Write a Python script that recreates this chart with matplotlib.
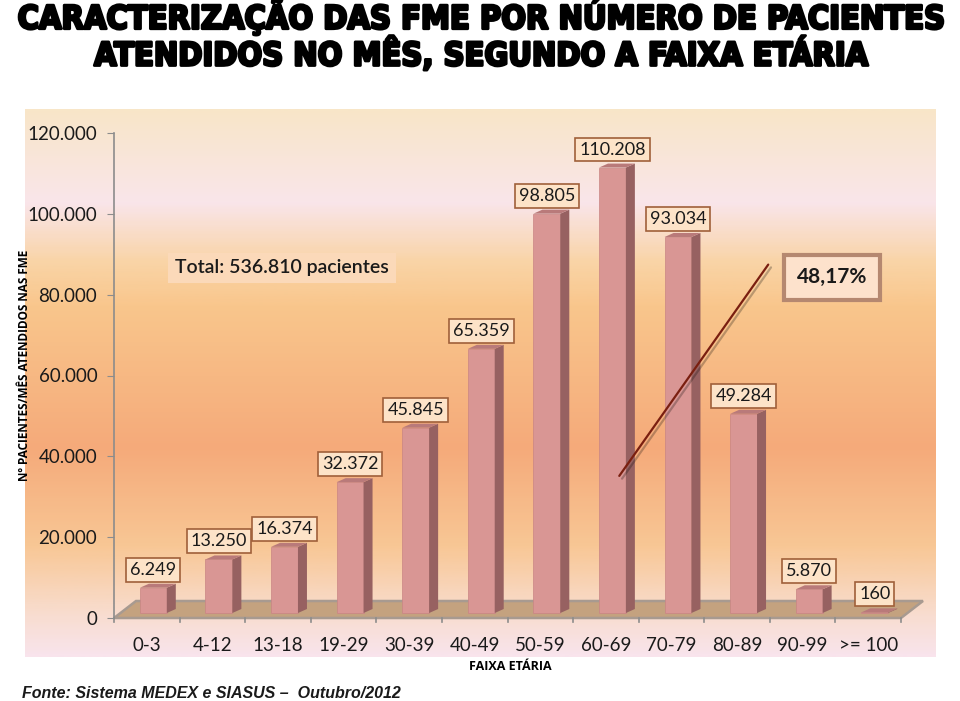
import numpy as np
import matplotlib
matplotlib.use('Agg')
import matplotlib.pyplot as plt
from matplotlib.patches import Polygon
from matplotlib.colors import LinearSegmentedColormap
import matplotlib.patheffects as pe

# data
faixas = ['0-3', '4-12', '13-18', '19-29', '30-39', '40-49', '50-59',
          '60-69', '70-79', '80-89', '90-99', '>= 100']
pacientes = [6249, 13250, 16374, 32372, 45845, 65359, 98805,
             110208, 93034, 49284, 5870, 160]
rotulos = ['6.249', '13.250', '16.374', '32.372', '45.845', '65.359', '98.805',
           '110.208', '93.034', '49.284', '5.870', '160']
yticks = [0, 20000, 40000, 60000, 80000, 100000, 120000]
ytick_labels = ['0', '20.000', '40.000', '60.000', '80.000', '100.000', '120.000']

W, H = 960, 701
fig = plt.figure(figsize=(9.6, 7.01), dpi=100)
fig.patch.set_facecolor('white')

# gradient background of the chart area
bg = fig.add_axes([25 / W, (H - 657) / H, (936 - 25) / W, (657 - 109) / H])
stops = [(0.0, '#f8e6c8'), (0.17, '#fae5ea'), (0.28, '#f9d4a6'), (0.36, '#f9c68c'),
         (0.62, '#f5aa7a'), (0.80, '#f8c795'), (0.92, '#f8dccd'), (1.0, '#f9e4ec')]
cmap = LinearSegmentedColormap.from_list('fundo', stops)
bg.imshow(np.linspace(0, 1, 300).reshape(-1, 1), aspect='auto', cmap=cmap,
          extent=[0, 1, 1, 0])
bg.set_xlim(0, 1)
bg.set_ylim(1, 0)
bg.axis('off')

ax = fig.add_axes([114 / W, (H - 618) / H, 787 / W, 485 / H])
ax.patch.set_alpha(0)
x = np.arange(len(faixas))
ax.set_xlim(-0.5, len(faixas) - 0.5)
ax.set_ylim(0, 120000)

px_x = 1 / 65.6          # one pixel in x data units
px_y = 120000 / 485      # one pixel in y data units

# floor
dep_x, dep_y = 22 * px_x, 17 * px_y
floor = Polygon([(-0.5, 0), (11.5, 0), (11.5 + dep_x, dep_y), (-0.5 + dep_x, dep_y)],
                closed=True, facecolor='#c4a27f', edgecolor='#a89a90', lw=1.8,
                clip_on=False, zorder=1)
ax.add_patch(floor)

# bars
base = 5 * px_y
bw = 0.41
shift = 0.1
sx, sy = 9 * px_x, 4 * px_y
ax.bar(x + shift, pacientes, width=bw, bottom=base, color='#d99694',
       edgecolor='#c98584', lw=0.5, zorder=3)
for xi, v in zip(x, pacientes):
    r = xi + shift + bw / 2
    l = xi + shift - bw / 2
    top = base + v
    ax.add_patch(Polygon([(r, base), (r + sx, base + sy), (r + sx, top + sy), (r, top)],
                         closed=True, facecolor='#976161', edgecolor='none', zorder=3))
    ax.add_patch(Polygon([(l, top), (r, top), (r + sx, top + sy), (l + sx, top + sy)],
                         closed=True, facecolor='#b97a7a', edgecolor='none', zorder=3))

for xi, v, lab in zip(x, pacientes, rotulos):
    ax.annotate(lab, (xi + shift, v + base), xytext=(0, 13), textcoords='offset points',
                ha='center', va='center', fontsize=13, family='Lato', color='#1a1a1a',
                zorder=5,
                bbox=dict(boxstyle='square,pad=0.22', facecolor='#fde3c8',
                          edgecolor='#a0603a', lw=1.2))

# axes styling
for s in ['top', 'right', 'bottom']:
    ax.spines[s].set_visible(False)
ax.spines['left'].set_color('#8c8c8c')
ax.spines['left'].set_linewidth(1.2)
ax.set_yticks(yticks)
ax.set_yticklabels(ytick_labels)
ax.tick_params(axis='y', length=5, color='#8c8c8c', labelsize=13.5, pad=7,
               labelcolor='#1a1a1a')
ax.set_xticks(x)
ax.set_xticklabels(faixas)
ax.tick_params(axis='x', length=0, labelsize=13.5, pad=14, labelcolor='#1a1a1a')
for t in ax.get_xticklabels() + ax.get_yticklabels():
    t.set_family('Lato')
for b in np.arange(-0.5, 12, 1.0):
    ax.plot([b, b], [0, -4 * px_y], color='#8c8c8c', lw=1.2, clip_on=False, zorder=2)

ax.set_ylabel('Nº PACIENTES/MÊS ATENDIDOS NAS FME', fontsize=8.5, fontweight='bold',
              family='Open Sans', labelpad=0)
ax.yaxis.set_label_coords(-0.106, 0.52)
fig.text(510 / W, 1 - 667 / H, 'FAIXA ETÁRIA', ha='center', va='center', fontsize=9,
         fontweight='bold', family='Open Sans')

# total box
fig.text(175 / W, 1 - 268 / H, 'Total: 536.810 pacientes', ha='left', va='center',
         fontsize=14, family='Lato', fontweight='semibold', color='#1a1a1a',
         bbox=dict(boxstyle='square,pad=0.35', facecolor='#fbd9b9', edgecolor='none'))

# trend line and percentage
ax.annotate('', xy=(9.5, 88000), xytext=(7.18, 34600),
            arrowprops=dict(arrowstyle='-', color='#7a1f10', lw=1.6,
                            path_effects=[pe.SimpleLineShadow(offset=(2, -2), alpha=0.25),
                                          pe.Normal()]))
fig.text(832 / W, 1 - 277 / H, '48,17%', ha='center', va='center', fontsize=15,
         fontweight='bold', family='Lato', color='#1a1a1a',
         bbox=dict(boxstyle='square,pad=0.6', facecolor='#fde2cc', edgecolor='#b58870',
                   lw=3))

# title
title_fx = [pe.withStroke(linewidth=2, foreground='black')]
fig.text(481 / W, 1 - 17 / H, 'CARACTERIZAÇÃO DAS FME POR NÚMERO DE PACIENTES',
         ha='center', va='center', fontsize=23.3, fontweight='bold',
         family='DejaVu Sans', fontstretch='condensed', path_effects=title_fx)
fig.text(481 / W, 1 - 55 / H, 'ATENDIDOS NO MÊS, SEGUNDO A FAIXA ETÁRIA',
         ha='center', va='center', fontsize=23.3, fontweight='bold',
         family='DejaVu Sans', fontstretch='condensed', path_effects=title_fx)

fig.text(22 / W, 1 - 693 / H, 'Fonte: Sistema MEDEX e SIASUS –  Outubro/2012',
         ha='left', va='center', fontsize=11.5, fontweight='bold', style='italic',
         family='Liberation Sans', color='#1a1a1a')

fig.savefig('out.png', dpi=100)
